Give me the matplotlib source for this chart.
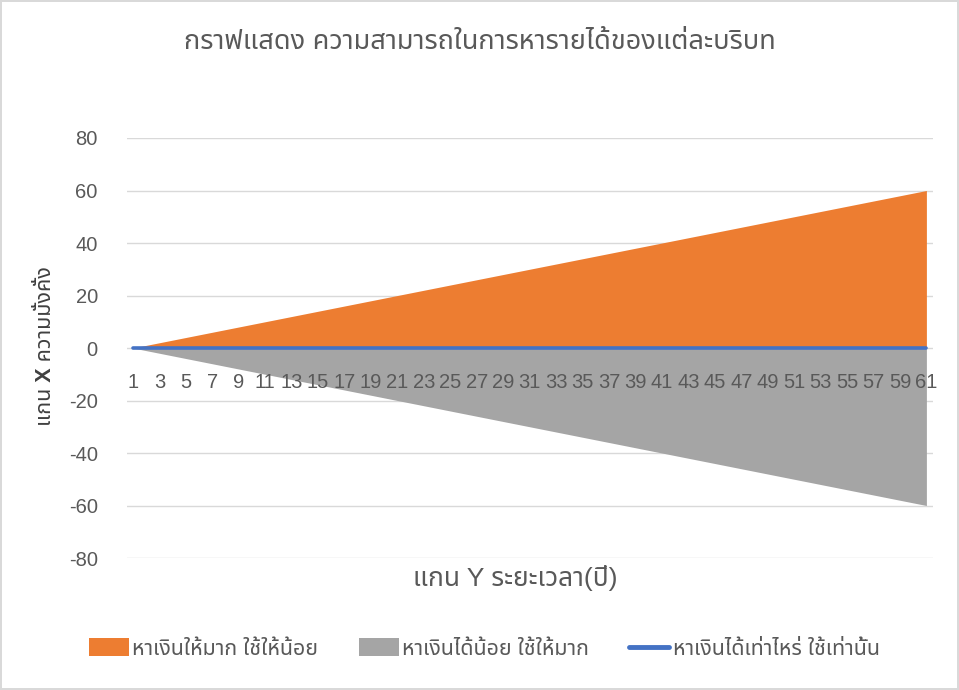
import matplotlib
matplotlib.use("Agg")
import matplotlib.pyplot as plt
from matplotlib.patches import Patch
from matplotlib.lines import Line2D

plt.rcParams["font.family"] = ["Liberation Sans", "Noto Sans Thai"]
plt.rcParams["axes.unicode_minus"] = False

TEXT_COLOR = "#595959"
GRID_COLOR = "#D9D9D9"

# years 1..61
years = [1, 2, 3, 4, 5, 6, 7, 8, 9, 10, 11, 12, 13, 14, 15, 16, 17, 18, 19, 20,
         21, 22, 23, 24, 25, 26, 27, 28, 29, 30, 31, 32, 33, 34, 35, 36, 37, 38, 39, 40,
         41, 42, 43, 44, 45, 46, 47, 48, 49, 50, 51, 52, 53, 54, 55, 56, 57, 58, 59, 60, 61]
earn_more = [0, 1, 2, 3, 4, 5, 6, 7, 8, 9, 10, 11, 12, 13, 14, 15, 16, 17, 18, 19,
             20, 21, 22, 23, 24, 25, 26, 27, 28, 29, 30, 31, 32, 33, 34, 35, 36, 37, 38, 39,
             40, 41, 42, 43, 44, 45, 46, 47, 48, 49, 50, 51, 52, 53, 54, 55, 56, 57, 58, 59, 60]
spend_more = [0, -1, -2, -3, -4, -5, -6, -7, -8, -9, -10, -11, -12, -13, -14, -15, -16, -17, -18, -19,
              -20, -21, -22, -23, -24, -25, -26, -27, -28, -29, -30, -31, -32, -33, -34, -35, -36, -37, -38, -39,
              -40, -41, -42, -43, -44, -45, -46, -47, -48, -49, -50, -51, -52, -53, -54, -55, -56, -57, -58, -59, -60]
balanced = [0, 0, 0, 0, 0, 0, 0, 0, 0, 0, 0, 0, 0, 0, 0, 0, 0, 0, 0, 0,
            0, 0, 0, 0, 0, 0, 0, 0, 0, 0, 0, 0, 0, 0, 0, 0, 0, 0, 0, 0,
            0, 0, 0, 0, 0, 0, 0, 0, 0, 0, 0, 0, 0, 0, 0, 0, 0, 0, 0, 0, 0]

series_names = ["หาเงินให้มาก ใช้ให้น้อย", "หาเงินได้น้อย ใช้ให้มาก", "หาเงินได้เท่าไหร่ ใช้เท่านั้น"]
colors = ["#ED7D31", "#A5A5A5", "#4472C4"]
y_ticks = [-80, -60, -40, -20, 0, 20, 40, 60, 80]
x_ticks = years[::2]

fig = plt.figure(figsize=(9.59, 6.9), dpi=100)
fig.patch.set_edgecolor("#D9D9D9")
fig.patch.set_linewidth(1.5)
ax = fig.add_axes([0.1324, 0.1913, 0.8405, 0.6087])

ax.fill_between(years, 0, earn_more, color=colors[0], lw=0, zorder=2)
ax.fill_between(years, 0, spend_more, color=colors[1], lw=0, zorder=2)
ax.plot(years, balanced, color=colors[2], lw=2.6, solid_capstyle="round", zorder=4)

ax.set_xlim(0.55, 61.5)
ax.set_ylim(-80, 80)
ax.set_yticks(y_ticks)
ax.set_xticks(x_ticks)
ax.set_xticklabels([str(v) for v in x_ticks])
ax.grid(axis="y", color=GRID_COLOR, lw=1.0, zorder=0)
ax.set_axisbelow(True)

for s in ["top", "right", "left"]:
    ax.spines[s].set_visible(False)
ax.spines["bottom"].set_position(("data", 0))
ax.spines["bottom"].set_visible(False)
ax.tick_params(axis="x", length=0, pad=18, labelsize=14.5, labelcolor=TEXT_COLOR)
ax.tick_params(axis="y", length=0, pad=21, labelsize=14.5, labelcolor=TEXT_COLOR)
# category labels sit on top of the grey area, like in excel
ax.xaxis.set_zorder(5)

fig.text(0.5, 0.939, "กราฟแสดง ความสามารถในการหารายได้ของแต่ละบริบท",
         ha="center", va="center", fontsize=19.5, color=TEXT_COLOR)
fig.text(0.537, 0.162, "แกน Y ระยะเวลา(ปี)", ha="center", va="center",
         fontsize=19, color=TEXT_COLOR)
fig.text(0.047, 0.498, "แกน X ความมั่งคั่ง", ha="center", va="center",
         rotation=90, fontsize=15.5, color="#404040", fontweight="bold")

handles = [Patch(facecolor=colors[0], edgecolor="none"),
           Patch(facecolor=colors[1], edgecolor="none"),
           Line2D([0], [0], color=colors[2], lw=3.5, solid_capstyle="round")]
leg = fig.legend(handles, series_names, loc="center", bbox_to_anchor=(0.505, 0.06),
                 ncol=3, frameon=False, fontsize=15.4, handlelength=1.87, handleheight=0.9,
                 handletextpad=0.15, columnspacing=1.9, labelcolor=TEXT_COLOR)

fig.savefig("out.png", dpi=100)
